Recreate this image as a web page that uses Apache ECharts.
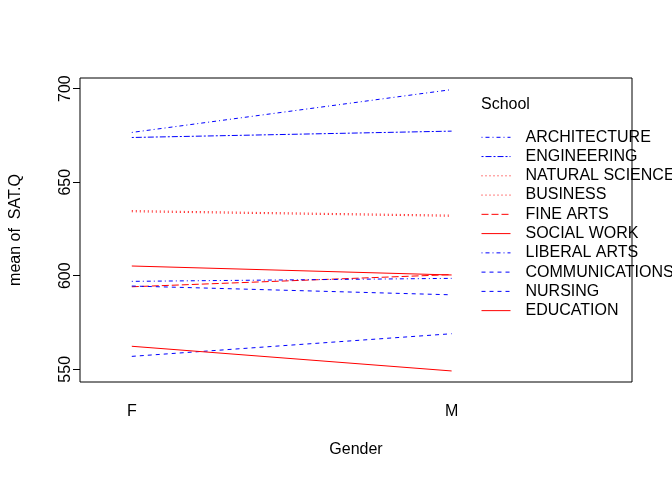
<!DOCTYPE html>
<html>
<head>
<meta charset="utf-8">
<script src="https://cdn.jsdelivr.net/npm/echarts@6/dist/echarts.min.js"></script>
<style>
  html, body { margin: 0; padding: 0; background: #fff; }
  #chart { width: 672px; height: 480px; }
</style>
</head>
<body>
<div id="chart"></div>
<script>
// gender levels on the x axis
const genders = ["F", "M"];

// schools in legend order (sorted by mean at M, like R's interaction.plot)
const schools = [
  "ARCHITECTURE", "ENGINEERING", "NATURAL SCIENCE", "BUSINESS", "FINE ARTS",
  "SOCIAL WORK", "LIBERAL ARTS", "COMMUNICATIONS", "NURSING", "EDUCATION"
];

// mean of SAT.Q per school, for F and M
const meanF = [676.6, 673.9, 634.8, 634.2, 594.1, 605.2, 597.0, 594.5, 556.9, 562.3];
const meanM = [699.5, 677.3, 632.4, 631.8, 600.6, 600.4, 598.6, 589.8, 569.0, 549.1];

const yTicks = [550, 600, 650, 700];

// R line types: dotdash, twodash, dotted, dashed, longdash, solid
const lty = {
  dotdash: [1, 3, 4, 3],
  twodash: [2, 2, 6, 2],
  dotted: [1, 3],
  dashed: [4, 4],
  longdash: [7, 3],
  solid: "solid"
};
const schoolLty = ["dotdash", "twodash", "dotted", "dotted", "longdash",
                   "solid", "dotdash", "dashed", "dashed", "solid"];
const schoolCol = ["#0000FF", "#0000FF", "#FF0000", "#FF0000", "#FF0000",
                   "#FF0000", "#0000FF", "#0000FF", "#0000FF", "#FF0000"];

const font = "Liberation Sans, Arial, Helvetica, sans-serif";

const chart = echarts.init(document.getElementById("chart"), null, { renderer: "canvas" });

const lineStyleOf = (i) => ({ color: schoolCol[i], width: 1, type: lty[schoolLty[i]], opacity: 1 });

const series = schools.map((name, i) => ({
  name: name,
  type: "line",
  symbol: "none",
  animation: false,
  color: schoolCol[i],
  lineStyle: lineStyleOf(i),
  data: [[1, meanF[i]], [2, meanM[i]]]
}));

chart.setOption({
  animation: false,
  backgroundColor: "#fff",
  title: {
    text: "School",
    left: 476,
    top: 92,
    textStyle: { fontFamily: font, fontSize: 16, fontWeight: "normal", color: "#000" }
  },
  legend: {
    data: schools.map((name, i) => ({
      name: name,
      itemStyle: { opacity: 0 },
      lineStyle: lineStyleOf(i)
    })),
    orient: "vertical",
    left: 481,
    top: 129.3,
    itemWidth: 29,
    itemHeight: 14,
    itemGap: 3.26,
    padding: 0,
    textStyle: { fontFamily: font, fontSize: 16, color: "#000", padding: [0, 0, 0, 10] }
  },
  grid: {
    left: 78,
    right: 40,
    top: 78,
    bottom: 98,
    show: true,
    borderColor: "#000",
    borderWidth: 1
  },
  xAxis: {
    type: "value",
    min: 0.838,
    max: 2.564,
    name: "Gender",
    nameLocation: "middle",
    nameGap: 60,
    nameTextStyle: { fontFamily: font, fontSize: 16, color: "#000" },
    axisLine: { show: false },
    axisTick: { show: false },
    splitLine: { show: false },
    axisLabel: {
      customValues: [1, 2],
      formatter: (v) => genders[Math.round(v) - 1],
      margin: 22,
      fontFamily: font,
      fontSize: 16,
      color: "#000"
    }
  },
  yAxis: {
    type: "value",
    min: 543.2,
    max: 705.7,
    name: "mean of  SAT.Q",
    nameLocation: "middle",
    nameGap: 56,
    nameTextStyle: { fontFamily: font, fontSize: 16, color: "#000" },
    axisLine: { show: false },
    splitLine: { show: false },
    axisTick: {
      show: true,
      customValues: yTicks,
      length: 7,
      lineStyle: { color: "#000" }
    },
    axisLabel: {
      customValues: yTicks,
      rotate: 90,
      margin: 6,
      fontFamily: font,
      fontSize: 16,
      color: "#000"
    }
  },
  series: series
});
</script>
</body>
</html>
